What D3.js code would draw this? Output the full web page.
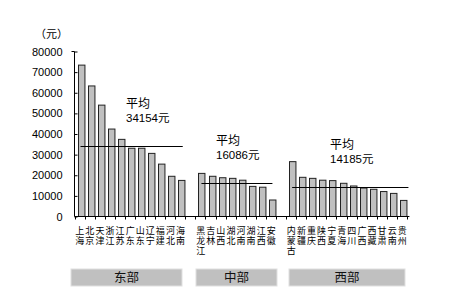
<!DOCTYPE html>
<html>
<head>
<meta charset="utf-8">
<script src="https://cdn.jsdelivr.net/npm/d3@7"></script>
<style>
  body { margin: 0; background: #fff; }
  svg { display: block; }
</style>
</head>
<body>
<div id="chart"></div>
<script>
const eastNames = ['上海', '北京', '天津', '浙江', '江苏', '广东', '山东', '辽宁', '福建', '河北', '海南'];
const eastValues = [73400, 63300, 54000, 42400, 37400, 33100, 33100, 30600, 25400, 19500, 17500];
const centralNames = ['黑龙江', '吉林', '山西', '湖北', '河南', '湖南', '江西', '安徽'];
const centralValues = [20900, 19500, 18800, 18500, 17600, 14600, 14200, 8000];
const westNames = ['内蒙古', '新疆', '重庆', '陕西', '宁夏', '青海', '四川', '广西', '西藏', '甘肃', '云南', '贵州'];
const westValues = [26600, 19000, 18500, 17600, 17400, 16100, 14800, 13800, 13200, 12100, 11200, 7800];
const groupNames = ['东部', '中部', '西部'];
const groupAverages = [34154, 16086, 14185];
const yTicks = [0, 10000, 20000, 30000, 40000, 50000, 60000, 70000, 80000];

const width = 475;
const height = 306;

const groups = [
  { name: groupNames[0], avg: groupAverages[0], names: eastNames, values: eastValues },
  { name: groupNames[1], avg: groupAverages[1], names: centralNames, values: centralValues },
  { name: groupNames[2], avg: groupAverages[2], names: westNames, values: westValues },
];

// one empty slot between the groups
const slots = [];
groups.forEach((g, gi) => {
  if (gi > 0) slots.push({ key: 'gap' + gi, gap: true });
  g.names.forEach((n, i) => slots.push({ key: n, name: n, value: g.values[i], group: gi }));
});

const svg = d3.select('#chart')
  .append('svg')
  .attr('width', width)
  .attr('height', height);

const x = d3.scaleBand()
  .domain(slots.map(d => d.key))
  .range([74.5, 74.5 + slots.length * 10.15])
  .paddingInner(0.36)
  .paddingOuter(0.3);

const y = d3.scaleLinear()
  .domain([0, 80000])
  .range([216.5, 51.5]);

// y axis
const yAxis = svg.append('g')
  .attr('transform', 'translate(74.5,0)')
  .call(d3.axisLeft(y).tickValues(yTicks).tickSize(-3).tickPadding(12).tickFormat(d3.format('d')));
yAxis.select('.domain').attr('d', `M-3,${y(80000)}H0V${y(0)}`);
yAxis.selectAll('text')
  .style('font-family', 'Liberation Sans, Arial, sans-serif')
  .style('font-size', '11px')
  .attr('fill', '#000');

svg.append('text')
  .attr('x', 35)
  .attr('y', 38)
  .style('font-family', 'Noto Sans CJK SC')
  .style('font-size', '11px')
  .text('（元）');

// bars
const bars = slots.filter(d => !d.gap);
svg.append('g').selectAll('rect')
  .data(bars)
  .join('rect')
  .attr('x', d => Math.round(x(d.key)) + 0.5)
  .attr('y', d => y(d.value))
  .attr('width', x.bandwidth())
  .attr('height', d => y(0) - y(d.value))
  .attr('fill', '#c0c0c0')
  .attr('stroke', '#222')
  .attr('stroke-width', 1);

// x baseline with slot ticks
const xEnd = x.range()[1];
svg.append('line')
  .attr('x1', 74.5).attr('x2', xEnd)
  .attr('y1', y(0)).attr('y2', y(0))
  .attr('stroke', '#000');
svg.append('g').selectAll('line')
  .data(d3.range(slots.length + 1))
  .join('line')
  .attr('x1', i => Math.round(74.5 + i * x.step()) + 0.5)
  .attr('x2', i => Math.round(74.5 + i * x.step()) + 0.5)
  .attr('y1', y(0))
  .attr('y2', y(0) + 3)
  .attr('stroke', '#000');

// vertical province labels
svg.append('g')
  .style('font-family', 'Noto Sans CJK SC')
  .style('font-size', '9px')
  .selectAll('text')
  .data(bars)
  .join('text')
  .attr('x', d => x(d.key) + x.bandwidth() / 2 - 1)
  .attr('y', 226)
  .style('writing-mode', 'vertical-rl')
  .style('text-orientation', 'upright')
  .style('letter-spacing', '1px')
  .text(d => d.name);

// averages
groups.forEach((g, gi) => {
  const items = bars.filter(d => d.group === gi);
  const x0 = x(items[0].key) + 3;
  const x1 = x(items[items.length - 1].key) + x.bandwidth() + (gi === 0 ? -2 : gi === 1 ? -3 : 2);
  svg.append('line')
    .attr('x1', x0).attr('x2', x1)
    .attr('y1', Math.round(y(g.avg)) + 0.5).attr('y2', Math.round(y(g.avg)) + 0.5)
    .attr('stroke', '#000');
  const tx = [126, 216, 330][gi];
  const ty = y(g.avg) - 24;
  svg.append('text')
    .attr('x', tx).attr('y', ty - 14)
    .style('font-family', 'Noto Sans CJK SC')
    .style('font-size', '12px')
    .text('平均');
  const t = svg.append('text')
    .attr('x', tx).attr('y', ty)
    .style('font-family', 'Liberation Sans, Arial, sans-serif')
    .style('font-size', '11.5px');
  t.append('tspan').text(g.avg);
  t.append('tspan').style('font-family', 'Noto Sans CJK SC').text('元');
});

// group boxes
const boxes = [[71, 182], [196, 277], [289, 405]];
groups.forEach((g, gi) => {
  const [b0, b1] = boxes[gi];
  svg.append('rect')
    .attr('x', b0).attr('y', 269)
    .attr('width', b1 - b0).attr('height', 17)
    .attr('fill', '#c0c0c0')
    .attr('stroke', '#e0e0e0');
  svg.append('text')
    .attr('x', (b0 + b1) / 2).attr('y', 282)
    .attr('text-anchor', 'middle')
    .style('font-family', 'Noto Sans CJK SC')
    .style('font-size', '12.5px')
    .attr('fill', '#111')
    .text(g.name);
});
</script>
</body>
</html>
